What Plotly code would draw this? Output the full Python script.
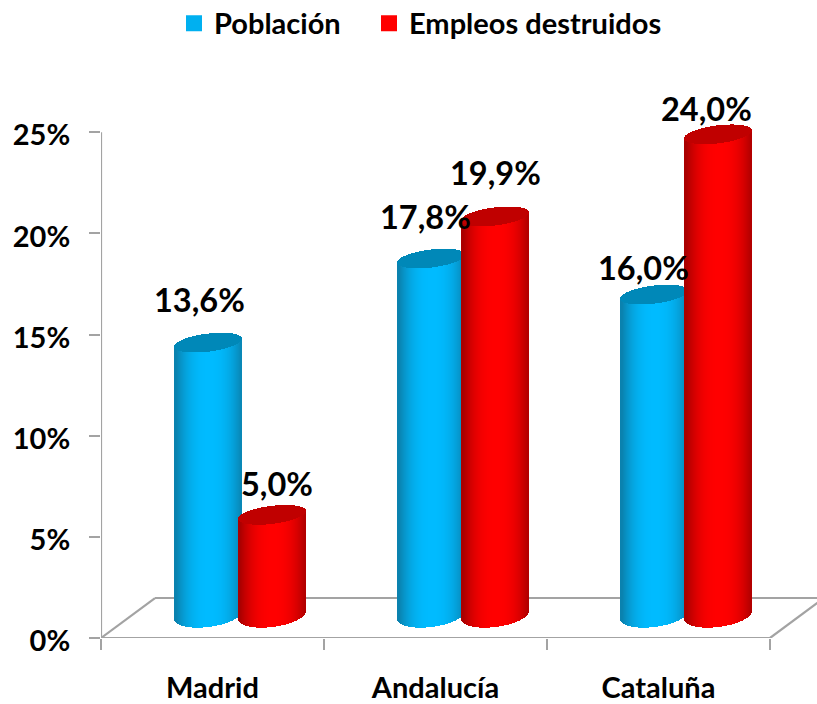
import numpy as np
import plotly.graph_objects as go

categories = ["Madrid", "Andalucía", "Cataluña"]
poblacion = [13.6, 17.8, 16.0]
empleos = [5.0, 19.9, 24.0]
y_ticks = [0, 5, 10, 15, 20, 25]
y_tick_labels = ["0%", "5%", "10%", "15%", "20%", "25%"]

FONT = "Lato"
PX_X = 223.0          # pixels per category
PX_Y = 506 / 25.0     # pixels per percent
Y_TOP = 26.0          # headroom above the 25% tick so the caps are not cut
FLOOR = 23 / PX_Y     # depth lift of the cylinder base
SHRINK = 0.99         # depth foreshortening of the value scale
GROUP = 27.5 / PX_X   # lateral depth shift
HALF = 33.5 / PX_X
SPACING = 32 / PX_X
TILT = 4 / PX_Y
CAP_B = 9 / PX_Y
BASE_B = 12 / PX_Y
N = 67
GRAY = "#A3A3A3"
TOP_PX = 638 - Y_TOP * PX_Y
PLOT_H = 638 - TOP_PX


def lerp(c1, c2, t):
    return "rgb(%d,%d,%d)" % tuple(round(a + (b - a) * t) for a, b in zip(c1, c2))


def cylinders(values, side, bright, dark, cap, name):
    xs, tops, bases, cols, cap_top, cap_base = [], [], [], [], [], []
    for i, v in enumerate(values):
        cx = i + 0.5 + GROUP + side * SPACING
        top = FLOOR + v * SHRINK
        for u in (np.arange(N) + 0.5) / N * 2 - 1:
            arc = np.sqrt(1 - u * u)
            xs.append(cx + u * HALF)
            slope = TILT * u
            bases.append(FLOOR + slope - BASE_B * arc)
            tops.append(top + slope + CAP_B * arc)
            cap_top.append(top + slope + CAP_B * arc)
            cap_base.append(top + slope - CAP_B * arc)
            d = abs(u - 0.05)
            cols.append(lerp(bright, dark, min(1, d ** 2.4 * 1.05)))
    w = 2 * HALF / N * 1.15
    return [
        go.Bar(x=xs, y=np.array(tops) - np.array(bases), base=bases, width=w,
               marker=dict(color=cols, line=dict(width=0)), showlegend=False,
               hoverinfo="skip", name=name),
        go.Bar(x=xs, y=np.array(cap_top) - np.array(cap_base), base=cap_base, width=w,
               marker=dict(color=cap, line=dict(width=0)), showlegend=False,
               hoverinfo="skip", name=name + " (tapa)"),
    ]


fig = go.Figure()

for t in cylinders(poblacion, -1, (0, 187, 255), (10, 130, 175), "#0088B8", "Población"):
    fig.add_trace(t)
for t in cylinders(empleos, 1, (255, 0, 0), (170, 0, 0), "#C00000", "Empleos destruidos"):
    fig.add_trace(t)

# legend keys, one independently placed legend per series
fig.add_trace(go.Scatter(x=[None], y=[None], mode="markers", name="Población", legend="legend",
                         marker=dict(symbol="square", size=16, color="#00B0F0")))
fig.add_trace(go.Scatter(x=[None], y=[None], mode="markers", name="Empleos destruidos", legend="legend2",
                         marker=dict(symbol="square", size=16, color="#FF0000")))

# floor of the 3D box and the value axis line, below the cylinders
depth_x = 54 / PX_X
depth_y = 40 / PX_Y
line = dict(color=GRAY, width=2.2)
for x0, y0, x1, y1 in [(0, 0, 3, 0), (0, 0, depth_x, depth_y), (3, 0, 3 + depth_x, depth_y),
                       (depth_x, depth_y, 3 + depth_x, depth_y), (0, 0, 0, 25)]:
    fig.add_shape(type="line", xref="x", yref="y", x0=x0, y0=y0, x1=x1, y1=y1,
                  line=line, layer="below")

# data labels: (x shift, y shift) in pixels from the cylinder's top
shifts_p = [(-9, 43), (-6, 42), (-11, 27)]
shifts_e = [(5, 31), (0, 44), (-12, 26)]
for values, side, shifts in [(poblacion, -1, shifts_p), (empleos, 1, shifts_e)]:
    for i, v in enumerate(values):
        fig.add_annotation(
            x=i + 0.5 + GROUP + side * SPACING, y=FLOOR + v * SHRINK,
            text=f"{v:.1f}".replace(".", ",") + "%", showarrow=False,
            xanchor="center", yanchor="middle",
            xshift=shifts[i][0], yshift=shifts[i][1],
            font=dict(family=FONT, size=32.5, color="#000000", weight=700))

legend_font = dict(family=FONT, size=29, color="#000000", weight=700)
axis_font = dict(family=FONT, size=29, color="#000000", weight=700)
fig.update_layout(
    width=817, height=704, autosize=False,
    margin=dict(l=101, r=0, t=TOP_PX, b=66, autoexpand=False),
    paper_bgcolor="white", plot_bgcolor="white",
    barmode="overlay", bargap=0,
    legend=dict(x=(174 - 101) / 716, y=(638 - 23) / PLOT_H, xanchor="left", yanchor="middle",
                font=legend_font, itemclick=False),
    legend2=dict(x=(369 - 101) / 716, y=(638 - 23) / PLOT_H, xanchor="left", yanchor="middle",
                 font=legend_font, itemclick=False),
    xaxis=dict(range=[0, 716 / PX_X], showgrid=False, zeroline=False, showline=False,
               automargin=False, tickmode="array", tickvals=[0.5, 1.5, 2.5], ticktext=categories,
               ticks="", ticklabelstandoff=30, tickfont=axis_font,
               minor=dict(tick0=0, dtick=1, ticks="outside", ticklen=11, tickwidth=2.2,
                          tickcolor=GRAY, showgrid=False)),
    yaxis=dict(range=[0, Y_TOP], showgrid=False, zeroline=False, showline=False,
               automargin=False, tickmode="array", tickvals=y_ticks,
               ticktext=y_tick_labels, ticks="outside", ticklen=11, tickwidth=2.2,
               tickcolor=GRAY, ticklabelstandoff=13, ticklabelshift=3, tickfont=axis_font),
)
fig.write_html("out.html", config={"displayModeBar": False},
               post_script="document.body.style.margin='0';")
